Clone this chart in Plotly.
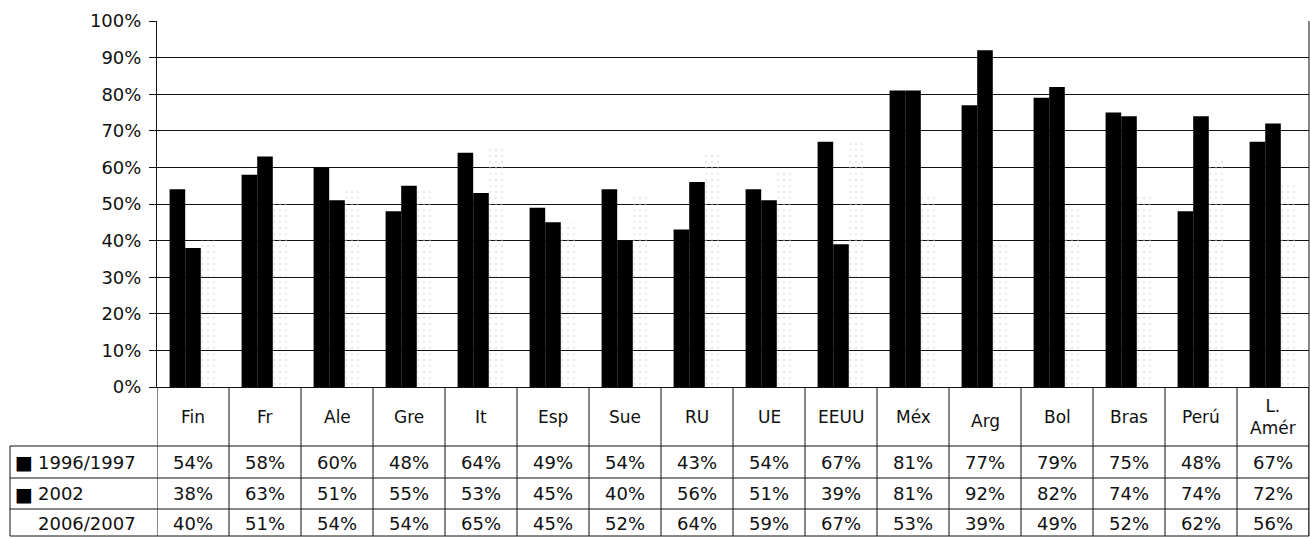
import plotly.graph_objects as go

# Countries / regions (table header labels)
categories = ["Fin", "Fr", "Ale", "Gre", "It", "Esp", "Sue", "RU", "UE", "EEUU",
              "Méx", "Arg", "Bol", "Bras", "Perú", "L. Amér"]
header_labels = ["Fin", "Fr", "Ale", "Gre", "It", "Esp", "Sue", "RU", "UE", "EEUU",
                 "Méx", "Arg", "Bol", "Bras", "Perú", "L.<br>Amér"]

series_names = ["1996/1997", "2002", "2006/2007"]
v_1996_1997 = [54, 58, 60, 48, 64, 49, 54, 43, 54, 67, 81, 77, 79, 75, 48, 67]
v_2002 = [38, 63, 51, 55, 53, 45, 40, 56, 51, 39, 81, 92, 82, 74, 74, 72]
v_2006_2007 = [40, 51, 54, 54, 65, 45, 52, 64, 59, 67, 53, 39, 49, 52, 62, 56]

y_ticks = [0, 10, 20, 30, 40, 50, 60, 70, 80, 90, 100]
y_tick_labels = [f"{v}%" for v in y_ticks]

W, H = 1310, 539
M_L, M_R, M_T, M_B = 157, 1, 21, 152
PLOT_H = H - M_T - M_B
PLOT_W = W - M_L - M_R


def py(y_px):
    """pixel row -> paper y"""
    return (H - M_B - y_px) / PLOT_H


def px(x_px):
    """pixel column -> paper x"""
    return (x_px - M_L) / PLOT_W


FONT = "DejaVu Sans"
INK = "#111111"

fig = go.Figure()
fig.add_bar(x=categories, y=v_1996_1997, name=series_names[0],
            marker=dict(color="black", line=dict(width=0)))
fig.add_bar(x=categories, y=v_2002, name=series_names[1],
            marker=dict(color="black", line=dict(width=0)))
fig.add_bar(x=categories, y=v_2006_2007, name=series_names[2],
            marker=dict(color="rgba(255,255,255,0)", line=dict(width=0),
                        pattern=dict(shape=".", fgcolor="#d4d4d4", size=6,
                                     solidity=0.12, fillmode="overlay")))

# --- data table under the plot ---
row_tops = [446, 478, 509]
row_bottom = 536
row_centers = [462, 493.5, 523]
header_center = 417
table_left = 10

shapes = []
line_style = dict(color=INK, width=1)
# horizontal rules of the table
for yv in row_tops + [row_bottom]:
    shapes.append(dict(type="line", xref="paper", yref="paper",
                       x0=px(table_left), x1=1, y0=py(yv), y1=py(yv), line=line_style))
# left border of the row-label column
shapes.append(dict(type="line", xref="paper", yref="paper",
                   x0=px(table_left), x1=px(table_left), y0=py(row_tops[0]), y1=py(row_bottom),
                   line=line_style))
# column separators
for i in range(len(categories) + 1):
    shapes.append(dict(type="line", xref="x", yref="paper",
                       x0=i - 0.5, x1=i - 0.5, y0=0, y1=py(row_bottom), line=line_style))
# right frame of the chart + table
shapes.append(dict(type="line", xref="paper", yref="paper",
                   x0=1, x1=1, y0=py(row_bottom), y1=1, line=line_style))

annotations = []
for cat, lab in zip(categories, header_labels):
    yc = header_center + (4 if cat == "Arg" else 0)
    annotations.append(dict(x=cat, xref="x", y=py(yc), yref="paper", text=lab,
                            showarrow=False, font=dict(family=FONT, size=17, color=INK),
                            xanchor="center", yanchor="middle"))

rows = [v_1996_1997, v_2002, v_2006_2007]
keys = [True, True, False]
for name, vals, yc, has_key in zip(series_names, rows, row_centers, keys):
    if has_key:
        annotations.append(dict(x=px(13), xref="paper", y=py(yc), yref="paper", text="■",
                                showarrow=False, font=dict(family=FONT, size=19, color="black"),
                                xanchor="left", yanchor="middle"))
    annotations.append(dict(x=px(36), xref="paper", y=py(yc), yref="paper", text=name,
                            showarrow=False, font=dict(family=FONT, size=18, color=INK),
                            xanchor="left", yanchor="middle"))
    for cat, v in zip(categories, vals):
        annotations.append(dict(x=cat, xref="x", y=py(yc), yref="paper", text=f"{v}%",
                                showarrow=False, font=dict(family=FONT, size=18, color=INK),
                                xanchor="center", yanchor="middle"))

fig.update_layout(
    width=W, height=H,
    margin=dict(l=M_L, r=M_R, t=M_T, b=M_B),
    paper_bgcolor="white", plot_bgcolor="white",
    barmode="group", bargap=0.35, bargroupgap=0,
    showlegend=False,
    font=dict(family=FONT, color=INK),
    shapes=shapes, annotations=annotations,
)
fig.update_xaxes(type="category", range=[-0.5, len(categories) - 0.5],
                 showticklabels=False, showgrid=False, ticks="",
                 showline=True, linecolor=INK, linewidth=1, zeroline=False)
fig.update_yaxes(range=[0, 100], tickmode="array", tickvals=y_ticks, ticktext=y_tick_labels,
                 showgrid=True, gridcolor=INK, gridwidth=1,
                 showline=True, linecolor=INK, linewidth=1,
                 ticks="outside", ticklen=7, tickcolor=INK, ticklabelstandoff=4,
                 tickfont=dict(family=FONT, size=18, color=INK), zeroline=False)

fig.write_html("out.html")
